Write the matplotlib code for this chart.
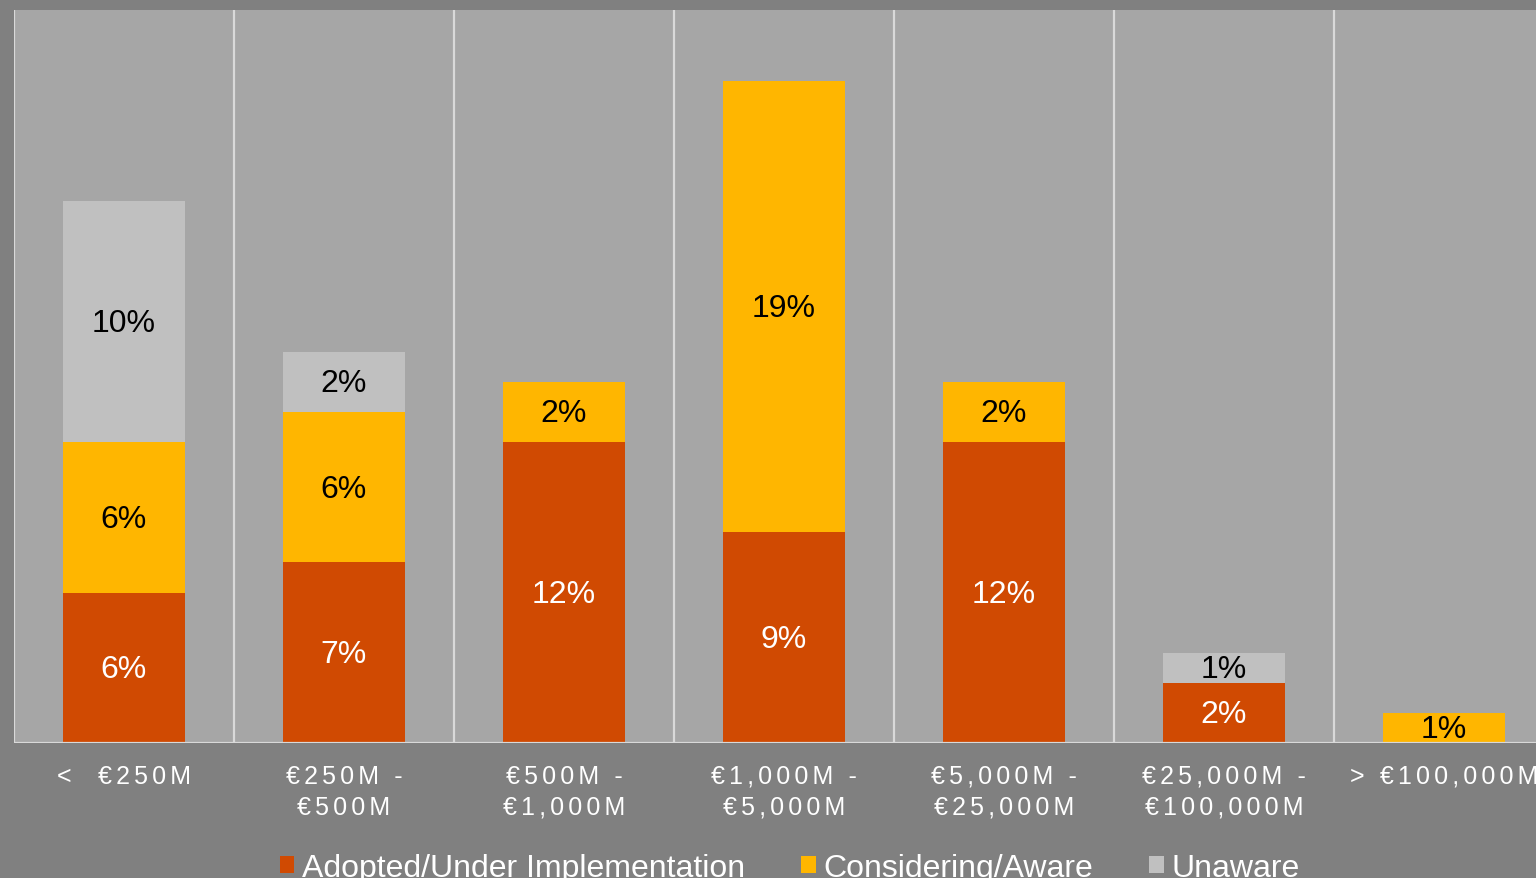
import matplotlib
matplotlib.use("Agg")
import matplotlib.pyplot as plt
import numpy as np

plt.rcParams["font.family"] = ["Liberation Sans", "DejaVu Sans"]

# data (percent of respondents)
categories = ["<  €250M", "€250M -\n€500M", "€500M -\n€1,000M", "€1,000M -\n€5,000M",
              "€5,000M -\n€25,000M", "€25,000M -\n€100,000M", "> €100,000M"]
adopted = [6.25, 7.5, 12.5, 8.75, 12.5, 2.5, 0]
considering = [6.25, 6.25, 2.5, 18.75, 2.5, 0, 1.25]
unaware = [10.0, 2.5, 0, 0, 0, 1.25, 0]

# labels as printed on the chart
adopted_labels = ["6%", "7%", "12%", "9%", "12%", "2%", ""]
considering_labels = ["6%", "6%", "2%", "19%", "2%", "", "1%"]
unaware_labels = ["10%", "2%", "", "", "", "1%", ""]

series_names = ["Adopted/Under Implementation", "Considering/Aware", "Unaware"]
colors = ["#D04A02", "#FFB600", "#C0C0C0"]
text_colors = ["white", "black", "black"]


def spaced(s):
    """Mimic the wide character spacing of the axis labels."""
    return "\n".join("\u2006".join(line) for line in s.split("\n"))


W, H = 1536, 879
fig = plt.figure(figsize=(W / 100, H / 100), dpi=100, facecolor="#808080")
ax = fig.add_axes([14 / W, 135 / H, 1540 / W, 733 / H])
ax.set_facecolor("#A6A6A6")

x = np.arange(len(categories))
bottom = np.zeros(len(categories))
handles = []
for vals, labels, name, col, tcol in zip([adopted, considering, unaware],
                                         [adopted_labels, considering_labels, unaware_labels],
                                         series_names, colors, text_colors):
    vals = np.array(vals)
    bars = ax.bar(x, vals, width=0.555, bottom=bottom, color=col, label=name, zorder=3)
    handles.append(bars)
    for xi, b, v, lab in zip(x, bottom, vals, labels):
        if lab:
            ax.text(xi, b + v / 2 - 0.06, lab, ha="center", va="center", color=tcol,
                    fontsize=23, zorder=4)
    bottom += vals

ax.set_xlim(-0.5, 6.5)
ax.set_ylim(0, 30.45)
for b in np.arange(-0.5, 6.0, 1.0):
    ax.axvline(b, color="#D9D9D9", lw=1.6, zorder=2)
ax.axhline(0, color="#D9D9D9", lw=1.6, zorder=5)

for s in ax.spines.values():
    s.set_visible(False)
ax.set_yticks([])
ax.set_xticks(x)
ax.set_xticklabels([spaced(c) for c in categories], color="white", fontsize=18,
                   linespacing=1.36)
ax.tick_params(axis="x", length=0, pad=15)

fig.legend(handles=handles, labels=series_names, loc="center", ncol=3,
           bbox_to_anchor=(790 / W, 10 / H), frameon=False, fontsize=23,
           labelcolor="white", handlelength=0.45, handleheight=0.45,
           handletextpad=0.25, columnspacing=1.75, borderpad=0)

fig.savefig("out.png", dpi=100, facecolor=fig.get_facecolor())
